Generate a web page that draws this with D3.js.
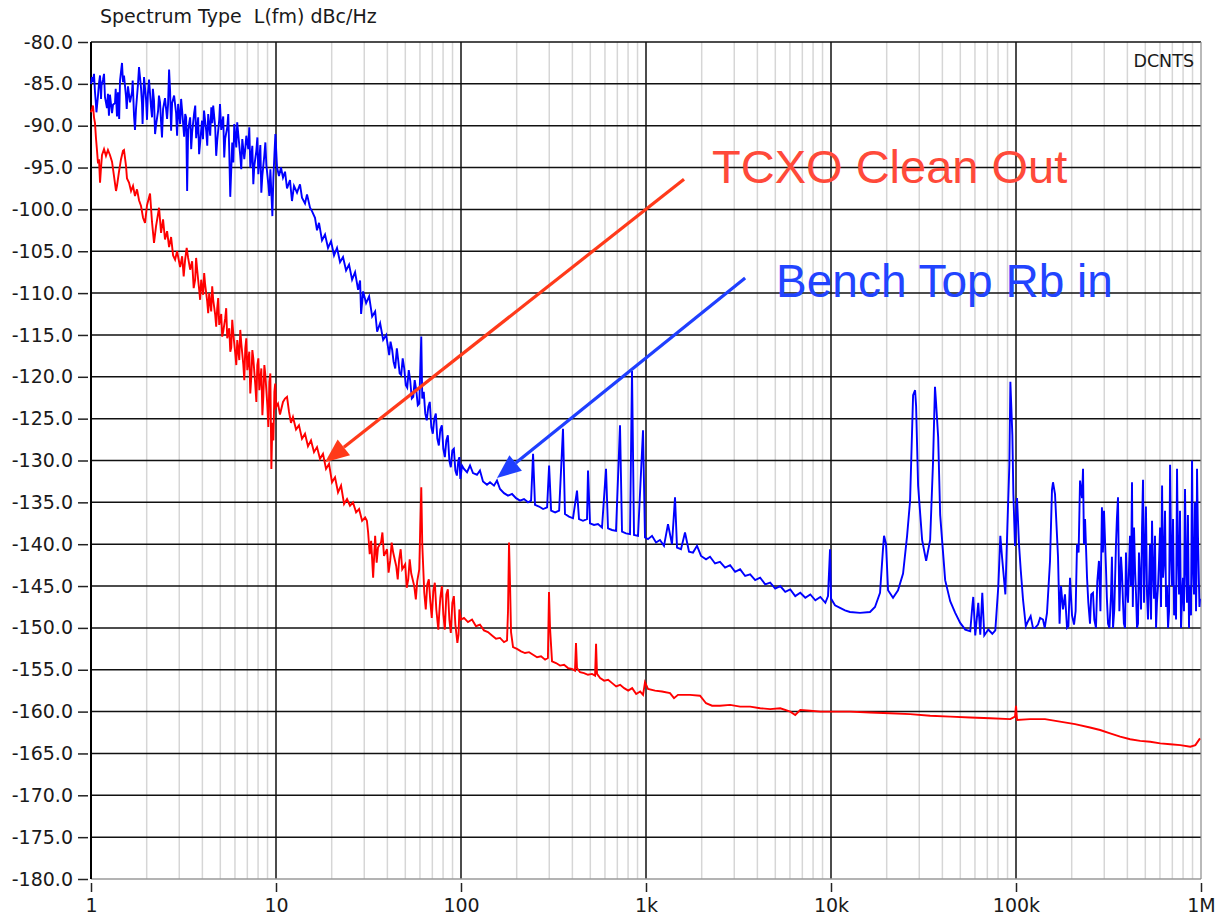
<!DOCTYPE html>
<html lang="en">
<head>
<meta charset="UTF-8">
<title>Spectrum</title>
<style>
    body { margin: 0; background: #fff; }
    text { font-family: "DejaVu Sans", Verdana, sans-serif; fill: #1a1a1a; }
    .note { font-family: "Liberation Sans", Arial, sans-serif; }
</style>
</head>
<body>
<svg id="chart" width="1219" height="921"></svg>
<script src="https://cdnjs.cloudflare.com/ajax/libs/d3/7.8.5/d3.min.js"></script>
<script>
// axis values
var yTicks = d3.range(-180, -79, 5);
var xTicks = [1, 10, 100, 1e3, 1e4, 1e5, 1e6];
var xTickLabels = ["1", "10", "100", "1k", "10k", "100k", "1M"];

// Bench Top Rb in  [Hz, dBc/Hz]
var blueTrace = [
 [1.000,-85.0],[1.013,-84.2],[1.025,-84.8],[1.038,-83.8],[1.051,-86.0],[1.064,-87.5],[1.091,-86.4],[1.105,-84.9],[1.119,-84.0],[1.133,-86.8],
 [1.161,-84.5],[1.176,-83.8],[1.190,-86.6],[1.220,-87.9],[1.235,-86.2],[1.266,-86.3],[1.299,-88.5],[1.315,-87.5],[1.348,-87.3],[1.382,-88.9],
 [1.399,-86.0],[1.435,-84.6],[1.471,-82.5],[1.489,-84.8],[1.508,-84.0],[1.546,-86.5],[1.585,-85.3],[1.625,-87.2],[1.666,-86.0],[1.708,-88.8],
 [1.729,-90.5],[1.751,-88.0],[1.795,-85.0],[1.818,-83.0],[1.864,-85.5],[1.887,-87.4],[1.935,-84.2],[1.984,-86.9],[2.008,-89.3],[2.059,-84.5],
 [2.111,-87.8],[2.137,-89.0],[2.191,-87.0],[2.247,-89.9],[2.303,-88.3],[2.362,-87.2],[2.392,-89.6],[2.452,-88.0],[2.512,-86.7],[2.578,-89.2],
 [2.643,-83.3],[2.676,-85.8],[2.744,-87.3],[2.813,-86.4],[2.884,-88.5],[2.957,-87.4],[3.032,-89.8],[3.109,-88.2],[3.187,-91.3],[3.268,-89.0],
 [3.309,-97.8],[3.350,-90.5],[3.435,-89.0],[3.521,-90.8],[3.610,-88.5],[3.702,-91.5],[3.795,-89.0],[3.891,-92.0],[3.981,-89.4],[4.083,-88.2],
 [4.194,-90.6],[4.300,-88.6],[4.409,-91.2],[4.520,-89.7],[4.577,-87.6],[4.692,-90.2],[4.811,-91.8],[4.932,-89.3],[5.058,-90.5],[5.185,-88.9],
 [5.316,-91.5],[5.450,-90.2],[5.588,-93.0],[5.658,-98.5],[5.801,-92.0],[5.948,-89.8],[6.099,-92.6],[6.252,-91.0],[6.410,-93.6],[6.573,-91.6],
 [6.738,-94.0],[6.910,-91.2],[7.083,-92.8],[7.263,-95.0],[7.447,-92.4],[7.635,-94.8],[7.828,-93.0],[8.025,-95.8],[8.229,-92.3],[8.436,-96.0],
 [8.650,-93.5],[8.869,-94.7],[9.093,-97.0],[9.323,-95.2],[9.558,-100.8],[9.800,-93.6],[9.923,-91.0],[10.13,-95.0],
 [1.07,-88.4],[1.14,-85.2],[1.25,-88.8],[1.36,-85.6],[1.42,-89.2],[1.56,-88.0],[1.68,-84.6],[1.90,-89.8],[2.03,-86.2],[2.16,-85.6],
 [2.22,-91.0],[2.33,-86.4],[2.42,-91.4],[2.61,-87.4],[2.71,-90.6],[2.92,-91.2],[3.07,-86.8],[3.23,-88.6],[3.48,-92.8],[3.66,-87.6],
 [3.84,-93.4],[4.03,-91.6],[4.25,-92.4],[4.47,-87.8],[4.75,-93.6],[4.98,-87.4],[5.25,-93.8],[5.52,-88.6],[5.88,-94.4],[6.17,-89.6],
 [6.49,-95.2],[6.82,-92.8],[7.17,-90.2],[7.54,-97.0],[7.93,-91.4],[8.33,-98.0],[8.76,-92.0],[9.20,-98.4],[9.68,-96.2],
 [10.38,-96.0],[10.64,-95.0],[10.91,-96.2],[11.19,-95.5],[11.47,-97.5],[11.90,-96.5],[12.20,-99.0],[12.51,-97.2],[12.99,-98.0],[13.48,-97.0],
 [13.82,-98.6],[14.35,-99.3],[14.71,-98.2],[15.27,-99.8],[15.65,-100.2],[16.25,-101.0],[16.66,-102.5],[17.08,-101.6],[17.73,-103.7],[18.41,-103.0],
 [19.11,-104.6],[19.84,-103.8],[20.59,-105.5],[21.37,-104.6],[22.19,-106.3],[23.03,-105.7],[23.92,-107.3],[24.83,-106.6],[25.78,-108.4],[26.76,-107.5],
 [27.78,-109.6],[28.48,-108.5],[28.84,-112.5],[29.57,-109.8],[30.70,-111.2],[31.87,-110.4],[33.09,-112.8],[34.35,-112.2],[35.21,-114.6],[36.55,-113.6],
 [37.95,-115.6],[39.41,-115.0],[40.91,-117.4],[42.47,-116.8],[44.09,-119.0],[45.77,-118.0],[47.52,-119.8],[49.33,-119.0],[51.22,-121.3],[53.17,-120.5],
 [55.20,-122.4],[57.30,-121.6],[59.49,-123.2],[60.99,-115.2],[61.75,-122.6],[64.11,-124.4],[66.56,-123.6],[69.10,-126.0],[71.74,-125.0],[74.47,-127.4],
 [77.31,-126.3],[80.26,-128.6],[83.32,-127.6],[86.50,-130.0],[89.80,-128.8],[93.23,-131.2],[96.79,-130.0],[99.20,-132.2],[101.3,-130.6],
 [41.6,-115.8],[43.2,-118.2],[45.0,-116.6],[46.6,-119.6],[48.4,-117.8],[50.3,-121.0],[52.2,-119.2],[54.2,-122.6],[56.2,-120.4],[58.4,-123.4],
 [62.9,-121.8],[65.3,-125.2],[67.8,-123.0],[70.4,-126.8],[73.1,-124.4],[75.9,-128.2],[78.8,-125.8],[81.8,-129.6],[84.9,-127.0],[88.1,-130.8],
 [91.5,-128.6],[95.0,-131.8],[98.0,-129.6],
 [103.8,-131.0],[107.8,-131.4],[111.9,-130.6],[116.1,-131.5],[122.0,-131.7],[126.6,-131.2],[131.5,-132.5],[138.2,-132.9],[143.5,-132.6],[150.8,-133.0],
 [156.5,-132.4],[162.5,-133.4],[170.8,-133.9],[179.5,-134.2],[188.7,-134.0],[198.4,-134.5],[208.5,-134.8],[219.1,-134.6],[230.3,-135.0],[239.2,-134.8],
 [245.2,-129.2],[251.2,-135.3],[264.3,-135.5],[277.8,-135.8],[292.0,-135.6],[299.4,-130.6],[307.0,-136.0],[322.7,-136.2],[339.2,-136.0],[355.9,-126.2],
 [364.8,-136.4],[383.5,-136.7],[403.1,-136.9],[423.7,-133.6],[434.4,-137.0],[456.5,-137.2],[479.9,-137.0],[485.9,-131.2],[498.1,-137.5],[523.6,-137.7],
 [550.2,-137.6],[578.3,-138.0],[607.9,-131.0],[623.2,-138.1],[655.0,-138.3],[688.5,-138.4],[723.6,-125.8],[741.9,-138.5],[779.7,-138.7],[819.6,-138.8],
 [840.2,-119.3],[861.4,-138.9],[905.3,-139.0],[963.4,-126.4],[987.6,-139.2],
 [1025,-139.4],[1078,-139.0],[1133,-139.8],[1190,-139.5],[1251,-140.2],[1315,-137.6],[1382,-140.0],[1435,-134.4],[1471,-140.4],[1546,-140.6],
 [1625,-138.6],[1708,-140.9],[1795,-141.0],[1887,-140.2],[1984,-141.4],[2111,-141.8],[2219,-141.5],[2362,-142.3],[2512,-142.1],[2676,-142.8],
 [2848,-142.5],[3032,-143.3],[3227,-143.0],[3435,-143.8],[3656,-143.6],[3891,-144.3],[4141,-144.0],[4409,-144.8],[4692,-144.6],[4994,-145.3],
 [5316,-145.0],[5658,-145.7],[6022,-145.4],[6410,-146.2],[6823,-145.8],[7263,-146.4],[7730,-146.0],[8229,-146.7],[8759,-146.3],[9323,-147.0],
 [9634,-146.2],[9880,-140.6],
 [10000,-146.5],[10510,-147.3],[11190,-147.6],[11900,-147.9],[12660,-148.1],[14350,-148.2],[16250,-148.1],[17290,-147.5],[18410,-145.8],[19110,-140.5],
 [19350,-139.0],[19840,-140.0],[20340,-145.5],[21640,-146.4],[23030,-145.5],[24520,-143.5],[25780,-139.0],[26760,-134.8],[27780,-122.2],[28480,-121.6],
 [28840,-123.5],[29570,-133.0],[31090,-139.5],[32680,-142.0],[34350,-139.5],[35590,-130.3],[36480,-121.2],[36950,-123.0],[37950,-127.2],[38910,-136.5],
 [41410,-144.3],[44090,-146.8],[46920,-148.2],[49940,-149.4],[53170,-150.2],[56580,-150.4],[58010,-147.5],[58740,-146.3],[60220,-150.9],[62520,-147.0],
 [64100,-150.8],[65730,-145.8],[67380,-150.9],[70830,-150.2],[74470,-150.7],[77300,-150.3],[80260,-145.0],[82290,-139.0],[84020,-141.5],[87590,-146.0],
 [89800,-138.0],[92070,-130.5],[93230,-120.6],[95580,-127.0],[96790,-134.0],[98760,-140.2],
 [101300,-134.5],[103800,-140.0],[109100,-146.6],[116100,-149.2],[123500,-150.0],[131500,-149.6],[139900,-149.0],[147100,-148.2],[152700,-142.0],[156500,-133.5],
 [158500,-132.6],[162500,-134.0],[168700,-141.5],[175100,-145.0],[179500,-147.8],[188700,-150.0],[195900,-144.0],[200800,-148.5],[205900,-149.6],[213700,-140.0],
 [221900,-132.4],[227500,-134.5],[230300,-131.0],[236200,-137.0],[242100,-144.0],[251200,-149.5],[260700,-145.8],[270600,-150.0],[280800,-142.0],[291400,-135.6],
 [299000,-136.0],[306600,-143.0],[314400,-149.5],[326300,-146.0],[334600,-150.0],[347100,-140.0],[355900,-134.4],[369500,-141.5],[378900,-147.0],[388600,-150.0],
 [398100,-145.5],[413200,-139.0],[423700,-132.6],[434400,-138.0],[445500,-146.0],[456500,-149.5],[468100,-144.0],[485900,-132.3],[498100,-141.0],[510800,-146.0],
 [523600,-145.0],[543600,-137.2],[557400,-146.5],[571600,-150.0],[585900,-145.0],[600900,-138.0],[616100,-133.0],[631000,-142.0],[647600,-147.5],[663600,-150.0],
 [680600,-130.5],[697700,-145.0],[715400,-148.5],[742000,-131.0],[760800,-146.0],[779700,-150.0],[799400,-144.0],[819600,-133.4],[840200,-147.0],[861400,-150.0],
 [872200,-146.0],[894300,-130.0],[916700,-146.0],[939900,-148.0],[951700,-131.0],[975400,-145.0],[987600,-146.5],
 [106000,-143.0],[113000,-149.8],[120000,-148.6],[127000,-150.0],[135000,-148.8],[143000,-150.0],[172000,-149.5],[184000,-146.0],[192000,-149.8],[210000,-148.0],
 [218000,-141.0],[233000,-140.0],[246000,-147.0],[255000,-146.0],[265000,-149.0],[275000,-144.5],[286000,-148.0],[295000,-141.0],[310000,-146.5],[320000,-150.0],
 [330000,-141.5],[340000,-147.8],[351000,-137.0],[362000,-148.0],[374000,-143.5],[383000,-149.5],[393000,-141.0],[403000,-147.0],[418000,-145.0],[428000,-147.5],
 [440000,-143.0],[451000,-150.0],[462000,-141.0],[474000,-147.8],[480000,-138.0],[492000,-147.0],[504000,-135.5],[517000,-149.0],[530000,-140.0],[537000,-149.0],
 [550000,-143.0],[564000,-139.0],[578000,-147.0],[593000,-142.0],[608000,-147.5],[623000,-144.0],[639000,-136.0],[655000,-145.0],[672000,-148.0],[689000,-141.0],
 [706000,-137.0],[724000,-145.0],[733000,-149.0],[751000,-141.0],[770000,-136.0],[789000,-146.5],[809000,-148.0],[830000,-143.0],[850000,-136.5],[866000,-145.0],
 [883000,-148.5],[905000,-143.0],[928000,-135.0],[945000,-144.0],[963000,-139.0],[981000,-147.5]
];

// TCXO Clean Out  [Hz, dBc/Hz]
var redTrace = [
 [1.000,-88.4],[1.013,-88.0],[1.025,-87.6],[1.038,-89.0],[1.051,-89.7],[1.064,-91.5],[1.078,-93.0],[1.091,-94.5],[1.105,-94.0],[1.119,-96.8],
 [1.133,-95.0],[1.147,-93.5],[1.176,-92.8],[1.205,-93.6],[1.235,-92.9],[1.266,-93.5],[1.299,-94.3],[1.331,-96.0],[1.365,-97.8],[1.382,-97.2],
 [1.417,-95.5],[1.453,-94.0],[1.489,-93.0],[1.508,-92.9],[1.546,-94.8],[1.565,-96.3],[1.605,-96.8],[1.646,-97.8],[1.687,-97.2],[1.729,-98.4],
 [1.773,-97.6],[1.818,-98.9],[1.864,-99.6],[1.911,-101.0],[1.959,-101.6],[2.008,-99.5],[2.085,-98.1],[2.137,-101.5],[2.191,-104.0],[2.247,-102.0],
 [2.333,-99.8],[2.392,-102.8],[2.452,-101.2],[2.512,-103.6],[2.578,-102.6],[2.643,-104.5],[2.710,-103.3],[2.778,-105.5],[2.848,-106.0],[2.920,-105.0],
 [3.032,-106.9],[3.109,-105.6],[3.227,-106.0],[3.350,-105.8],[3.435,-107.2],[3.521,-106.2],[3.656,-108.4],[3.748,-107.2],[3.843,-109.6],[3.941,-108.4],
 [4.040,-110.2],[4.141,-109.0],[4.247,-111.0],[4.354,-110.0],[4.464,-112.2],[4.577,-110.8],[4.692,-112.6],[4.811,-111.8],[4.932,-113.8],[5.058,-112.5],
 [5.185,-114.6],[5.316,-113.0],[5.450,-115.4],[5.588,-114.2],[5.730,-116.5],[5.874,-114.8],[6.022,-117.2],[6.175,-115.6],[6.331,-118.0],[6.492,-116.0],
 [6.655,-118.5],[6.823,-116.6],[6.996,-119.2],[7.172,-117.0],[7.355,-120.0],[7.540,-117.8],[7.730,-121.0],[7.926,-118.6],[8.126,-121.6],[8.332,-119.0],
 [8.542,-122.4],[8.759,-119.8],[8.979,-123.4],[9.207,-120.6],[9.440,-131.0],[9.558,-125.5],[9.800,-121.8],[10.00,-123.6],
 [3.17,-108.0],[3.29,-104.6],[3.59,-109.4],[3.70,-105.8],[3.89,-110.8],[4.09,-107.6],[4.30,-112.4],[4.52,-109.2],[4.75,-114.0],[4.87,-110.6],
 [5.12,-115.2],[5.38,-111.8],[5.66,-117.0],[5.80,-113.2],[6.10,-118.6],[6.41,-114.4],[6.74,-120.4],[6.91,-115.4],[7.26,-122.0],[7.45,-116.8],
 [7.83,-123.0],[8.03,-117.8],[8.44,-124.6],[8.65,-118.6],[9.09,-126.0],[9.32,-119.6],[9.68,-127.6],[9.90,-120.8],
 [10.25,-123.2],[10.51,-124.5],[10.91,-123.0],[11.19,-122.6],[11.47,-122.4],[11.76,-124.2],[12.05,-125.5],[12.35,-124.8],[12.83,-126.3],[13.31,-125.8],
 [13.82,-127.4],[14.35,-126.8],[14.89,-128.3],[15.46,-127.6],[16.05,-129.0],[16.66,-128.4],[17.29,-129.8],[17.95,-129.2],[18.64,-131.0],[19.35,-130.4],
 [20.08,-132.6],[20.85,-132.0],[21.64,-133.8],[22.47,-133.0],[23.33,-135.2],[24.21,-134.6],[25.12,-135.4],[26.07,-135.0],[27.10,-136.2],[28.13,-135.8],
 [29.20,-137.2],[30.32,-136.8],[31.48,-138.6],[32.68,-139.6],[33.50,-144.0],[34.35,-139.0],[35.59,-140.4],[36.95,-139.8],[38.35,-141.4],[39.81,-140.6],
 [41.41,-142.0],[43.00,-141.0],[44.64,-142.6],[46.33,-141.8],[48.11,-143.0],[49.94,-142.4],[51.85,-144.2],[53.83,-143.5],[55.88,-145.0],[58.01,-144.4],
 [59.49,-143.0],[60.22,-138.0],[60.99,-133.2],[61.75,-140.0],[63.31,-145.8],[65.73,-144.8],[68.23,-146.8],[70.83,-145.6],[73.55,-147.8],[75.40,-150.2],
 [77.31,-146.4],[80.26,-148.4],[83.32,-146.0],[86.50,-149.0],[89.80,-147.0],[93.23,-149.6],[95.58,-151.8],[98.00,-147.8],[100.0,-149.0],
 [31.0,-137.2],[32.1,-141.2],[35.0,-142.2],[37.6,-138.6],[40.6,-143.4],[42.2,-139.8],[45.5,-144.2],[47.2,-140.6],[50.9,-145.2],[52.8,-141.8],
 [57.0,-146.6],[64.5,-147.8],[67.0,-144.2],[69.5,-148.8],[72.2,-144.6],[76.3,-148.2],[78.8,-145.0],[81.8,-150.2],[84.9,-145.4],[88.1,-150.6],
 [91.5,-146.2],[97.0,-150.8],
 [103.8,-148.8],[109.1,-149.3],[114.7,-149.0],[120.5,-149.8],[126.6,-149.6],[133.1,-150.3],[139.9,-150.5],[147.1,-150.9],[154.6,-151.3],[162.5,-151.2],
 [170.8,-151.7],[177.3,-151.5],[179.5,-148.0],[181.8,-139.8],[184.0,-144.5],[186.4,-150.5],[191.1,-152.3],[200.8,-152.5],[211.1,-152.8],[221.9,-153.0],
 [233.3,-152.9],[245.2,-153.2],[257.8,-153.5],[270.7,-153.4],[284.8,-153.8],[295.0,-153.6],[299.0,-145.7],[302.8,-150.0],[310.5,-154.0],[326.3,-154.2],
 [343.0,-154.5],[360.7,-154.4],[378.9,-154.8],[398.1,-154.9],[413.2,-155.1],[418.4,-151.8],[423.7,-154.8],[440.2,-155.3],[462.2,-155.4],[485.9,-155.6],
 [510.8,-155.5],[530.5,-155.7],[537.1,-151.9],[543.6,-155.5],[565.1,-156.0],[593.9,-156.3],[624.2,-156.2],[656.2,-156.6],[689.7,-157.0],[725.0,-156.8],
 [762.1,-157.2],[801.1,-157.5],[842.0,-157.2],[885.0,-157.9],[930.2,-157.6],[964.0,-158.0],[987.6,-156.5],
 [1025,-157.3],[1119,-157.5],[1220,-157.6],[1348,-157.8],[1417,-158.4],[1489,-158.0],[1729,-158.0],[1959,-158.1],[2111,-159.0],[2275,-159.3],
 [2512,-159.3],[2848,-159.2],[3227,-159.4],[3656,-159.4],[4141,-159.6],[4692,-159.7],[5316,-159.6],[6022,-160.0],[6410,-160.4],[6823,-159.8],
 [7730,-159.9],[8759,-160.0],[10000,-160.0],[12660,-160.0],[16250,-160.1],[20850,-160.2],[26760,-160.3],[34350,-160.5],[44090,-160.6],[56580,-160.7],
 [72630,-160.8],[93230,-160.9],[98760,-160.6],[100000,-159.3],[101300,-161.0],[119000,-160.9],[143500,-160.9],[172900,-161.2],[208500,-161.5],[251200,-161.9],
 [284800,-162.2],[322700,-162.6],[365600,-163.0],[414100,-163.3],[469200,-163.5],[531600,-163.6],[602200,-163.8],[682300,-163.9],[773000,-164.0],[875900,-164.2],
 [932300,-164.0],[987600,-163.2]
];

// the points were read in passes, put them back in frequency order
blueTrace.sort(function(a, b) { return a[0] - b[0]; });
redTrace.sort(function(a, b) { return a[0] - b[0]; });

var svg = d3.select("#chart");
var plotLeft = 91, plotRight = 1201, plotTop = 42, plotBottom = 879;

var x = d3.scaleLog().domain([1, 1e6]).range([plotLeft, plotRight]);
var y = d3.scaleLinear().domain([-180, -80]).range([plotBottom, plotTop]);

// white background
svg.append("rect").attr("width", 1219).attr("height", 921).attr("fill", "#fff");

// minor vertical grid
var minor = [];
for (var k = 0; k < 6; k++) {
    for (var m = 2; m <= 9; m++) minor.push(m * Math.pow(10, k));
}
svg.append("g").selectAll("line").data(minor).enter().append("line")
    .attr("x1", function(d) { return x(d); }).attr("x2", function(d) { return x(d); })
    .attr("y1", plotTop).attr("y2", plotBottom)
    .attr("stroke", "#d6d6d6").attr("stroke-width", 1.5);

// major horizontal grid
svg.append("g").selectAll("line").data(yTicks.filter(function(d) { return d > -180; })).enter().append("line")
    .attr("x1", plotLeft).attr("x2", plotRight)
    .attr("y1", function(d) { return y(d); }).attr("y2", function(d) { return y(d); })
    .attr("stroke", "#111").attr("stroke-width", 1.5);

// decade lines
svg.append("g").selectAll("line").data(xTicks.slice(1, 6)).enter().append("line")
    .attr("x1", function(d) { return x(d); }).attr("x2", function(d) { return x(d); })
    .attr("y1", plotTop).attr("y2", plotBottom)
    .attr("stroke", "#111").attr("stroke-width", 1.5);

// frame
svg.append("line").attr("x1", plotLeft).attr("x2", plotRight).attr("y1", plotBottom).attr("y2", plotBottom)
    .attr("stroke", "#9a9a9a").attr("stroke-width", 1.5);
svg.append("line").attr("x1", plotRight).attr("x2", plotRight).attr("y1", plotTop).attr("y2", plotBottom)
    .attr("stroke", "#8a8a8a").attr("stroke-width", 1.2);
svg.append("line").attr("x1", plotLeft).attr("x2", plotLeft).attr("y1", plotTop).attr("y2", plotBottom)
    .attr("stroke", "#000").attr("stroke-width", 2);

// traces
var line = d3.line()
    .x(function(d) { return x(d[0]); })
    .y(function(d) { return y(d[1]); });

svg.append("path").datum(redTrace).attr("d", line)
    .attr("fill", "none").attr("stroke", "#ff0000").attr("stroke-width", 1.9)
    .attr("stroke-linejoin", "miter");
svg.append("path").datum(blueTrace).attr("d", line)
    .attr("fill", "none").attr("stroke", "#0000ff").attr("stroke-width", 1.9)
    .attr("stroke-linejoin", "miter");

// y axis
var yAxis = d3.axisLeft(y).tickValues(yTicks).tickSize(10).tickPadding(5)
    .tickFormat(function(d) { return d.toFixed(1); });
var gy = svg.append("g").attr("transform", "translate(88,0)").call(yAxis);
gy.select(".domain").remove();
gy.selectAll(".tick line").attr("stroke", "#222").attr("stroke-width", 1.5);
gy.selectAll("text").attr("font-size", 19).attr("fill", "#1a1a1a")
    .attr("font-family", "DejaVu Sans, Verdana, sans-serif");

// x axis
var xAxis = d3.axisBottom(x).tickValues(xTicks).tickSize(9).tickPadding(7)
    .tickFormat(function(d, i) { return xTickLabels[i]; });
var gx = svg.append("g").attr("transform", "translate(0,883)").call(xAxis);
gx.select(".domain").remove();
gx.selectAll(".tick line").attr("stroke", "#222").attr("stroke-width", 1.5);
gx.selectAll("text").attr("font-size", 19).attr("fill", "#1a1a1a")
    .attr("font-family", "DejaVu Sans, Verdana, sans-serif");

// titles
svg.append("text").attr("x", 100).attr("y", 23).attr("font-size", 19)
    .style("white-space", "pre").text("Spectrum Type  L(fm) dBc/Hz");
svg.append("text").attr("x", 1194).attr("y", 67).attr("font-size", 17.5)
    .attr("text-anchor", "end").text("DCNTS");

// annotations: arrows drawn in data coordinates
function arrow(from, to, color) {
    var x0 = x(from[0]), y0 = y(from[1]), x1 = x(to[0]), y1 = y(to[1]);
    var dx = x1 - x0, dy = y1 - y0, len = Math.sqrt(dx * dx + dy * dy);
    var ux = dx / len, uy = dy / len, hl = 24, hw = 10;
    var bx = x1 - ux * hl, by = y1 - uy * hl;
    svg.append("line").attr("x1", x0).attr("y1", y0).attr("x2", bx).attr("y2", by)
        .attr("stroke", color).attr("stroke-width", 3.2);
    svg.append("polygon")
        .attr("points", [[x1, y1], [bx - uy * hw, by + ux * hw], [bx + uy * hw, by - ux * hw]].join(" "))
        .attr("fill", color);
}
arrow([1605, -96.4], [18.4, -130.2], "#ff3a1a");
arrow([3435, -108.2], [156.5, -132.1], "#1f3fff");

svg.append("text").attr("class", "note").attr("x", x(2275)).attr("y", y(-96.85))
    .attr("font-size", 47).style("fill", "#ff4a3a").text("TCXO Clean Out");
svg.append("text").attr("class", "note").attr("x", x(5050)).attr("y", y(-110.5))
    .attr("font-size", 46).style("fill", "#2244ff").text("Bench Top Rb in");
</script>
</body>
</html>
